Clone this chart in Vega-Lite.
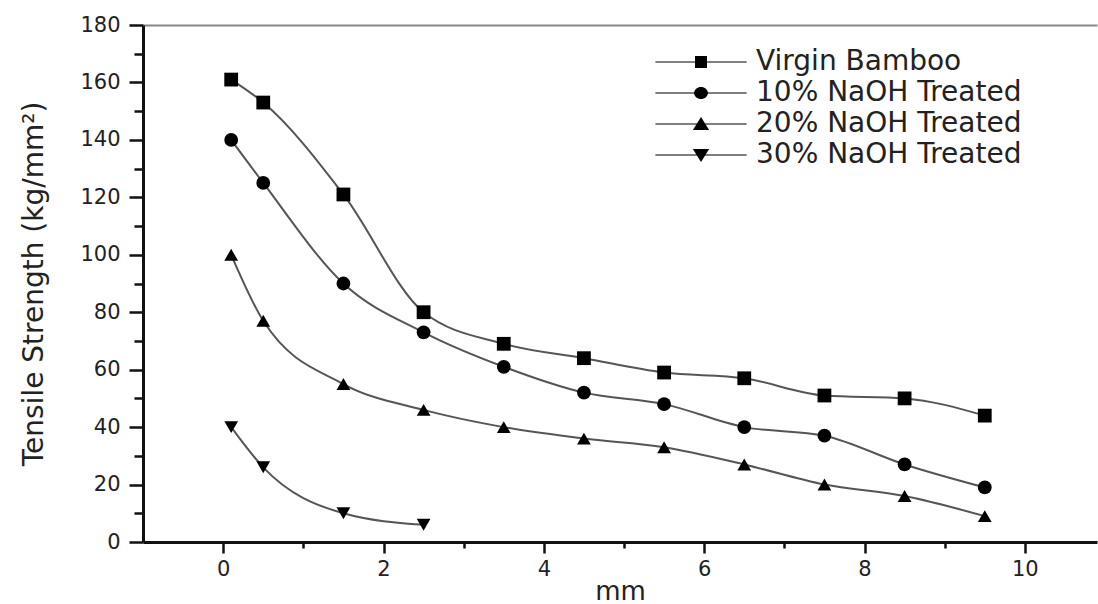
{
  "$schema": "https://vega.github.io/schema/vega-lite/v6.json",
  "width": 954,
  "height": 517,
  "autosize": {"type": "none"},
  "padding": {"left": 143, "top": 25, "right": 1, "bottom": 62},
  "background": "white",
  "config": {
    "view": {"stroke": null},
    "font": "DejaVu Sans",
    "axis": {"grid": false, "domainColor": "#111", "tickColor": "#111", "labelColor": "#222", "titleColor": "#222", "labelFont": "DejaVu Sans", "titleFont": "DejaVu Sans", "titleFontWeight": "normal"}
  },
  "data": {"values": [
    {"series": "Virgin Bamboo", "x": 0.1, "y": 161},
    {"series": "Virgin Bamboo", "x": 0.5, "y": 153},
    {"series": "Virgin Bamboo", "x": 1.5, "y": 121},
    {"series": "Virgin Bamboo", "x": 2.5, "y": 80},
    {"series": "Virgin Bamboo", "x": 3.5, "y": 69},
    {"series": "Virgin Bamboo", "x": 4.5, "y": 64},
    {"series": "Virgin Bamboo", "x": 5.5, "y": 59},
    {"series": "Virgin Bamboo", "x": 6.5, "y": 57},
    {"series": "Virgin Bamboo", "x": 7.5, "y": 51},
    {"series": "Virgin Bamboo", "x": 8.5, "y": 50},
    {"series": "Virgin Bamboo", "x": 9.5, "y": 44},
    {"series": "10% NaOH Treated", "x": 0.1, "y": 140},
    {"series": "10% NaOH Treated", "x": 0.5, "y": 125},
    {"series": "10% NaOH Treated", "x": 1.5, "y": 90},
    {"series": "10% NaOH Treated", "x": 2.5, "y": 73},
    {"series": "10% NaOH Treated", "x": 3.5, "y": 61},
    {"series": "10% NaOH Treated", "x": 4.5, "y": 52},
    {"series": "10% NaOH Treated", "x": 5.5, "y": 48},
    {"series": "10% NaOH Treated", "x": 6.5, "y": 40},
    {"series": "10% NaOH Treated", "x": 7.5, "y": 37},
    {"series": "10% NaOH Treated", "x": 8.5, "y": 27},
    {"series": "10% NaOH Treated", "x": 9.5, "y": 19},
    {"series": "20% NaOH Treated", "x": 0.1, "y": 100},
    {"series": "20% NaOH Treated", "x": 0.5, "y": 77},
    {"series": "20% NaOH Treated", "x": 1.5, "y": 55},
    {"series": "20% NaOH Treated", "x": 2.5, "y": 46},
    {"series": "20% NaOH Treated", "x": 3.5, "y": 40},
    {"series": "20% NaOH Treated", "x": 4.5, "y": 36},
    {"series": "20% NaOH Treated", "x": 5.5, "y": 33},
    {"series": "20% NaOH Treated", "x": 6.5, "y": 27},
    {"series": "20% NaOH Treated", "x": 7.5, "y": 20},
    {"series": "20% NaOH Treated", "x": 8.5, "y": 16},
    {"series": "20% NaOH Treated", "x": 9.5, "y": 9},
    {"series": "30% NaOH Treated", "x": 0.1, "y": 40},
    {"series": "30% NaOH Treated", "x": 0.5, "y": 26},
    {"series": "30% NaOH Treated", "x": 1.5, "y": 10},
    {"series": "30% NaOH Treated", "x": 2.5, "y": 6}
  ]},
  "layer": [
    {
      "mark": {"type": "line", "interpolate": "monotone", "stroke": "#555", "strokeWidth": 2},
      "encoding": {
        "x": {"field": "x", "type": "quantitative", "scale": {"domain": [-1, 10.9], "nice": false, "zero": false},
          "axis": {"orient": "bottom", "values": [0, 2, 4, 6, 8, 10], "tickSize": 11, "tickWidth": 2.5, "domainWidth": 3, "labelFontSize": 21, "labelPadding": 5, "title": "mm", "titleFontSize": 26, "titlePadding": -1}},
        "y": {"field": "y", "type": "quantitative", "scale": {"domain": [0, 180], "nice": false},
          "axis": {"orient": "left", "values": [0, 20, 40, 60, 80, 100, 120, 140, 160, 180], "tickSize": 14, "tickWidth": 2.5, "domainWidth": 3, "labelFontSize": 21, "labelPadding": 9, "title": "Tensile Strength (kg/mm²)", "titleFontSize": 28, "titlePadding": 31}},
        "detail": {"field": "series"}
      }
    },
    {
      "mark": {"type": "point", "filled": true, "color": "black", "opacity": 1, "size": 190},
      "encoding": {
        "x": {"field": "x", "type": "quantitative", "scale": {"domain": [-1, 10.9], "nice": false, "zero": false},
          "axis": {"orient": "bottom", "values": [1, 3, 5, 7, 9], "tickSize": 6, "tickWidth": 2.5, "domain": false, "labels": false, "title": null}},
        "y": {"field": "y", "type": "quantitative", "scale": {"domain": [0, 180], "nice": false},
          "axis": {"orient": "left", "values": [10, 30, 50, 70, 90, 110, 130, 150, 170], "tickSize": 9, "tickWidth": 2.5, "domain": false, "labels": false, "title": null}},
        "shape": {"field": "series", "type": "nominal",
          "scale": {"domain": ["Virgin Bamboo", "10% NaOH Treated", "20% NaOH Treated", "30% NaOH Treated"], "range": ["square", "circle", "triangle-up", "triangle-down"]},
          "legend": null}
      }
    },
    {
      "mark": {"type": "point", "filled": true, "fill": "black", "strokeWidth": 1.5, "opacity": 0},
      "encoding": {
        "x": {"field": "x", "type": "quantitative", "scale": {"domain": [-1, 10.9], "nice": false, "zero": false},
          "axis": {"orient": "top", "ticks": false, "labels": false, "domainColor": "#888", "domainWidth": 2, "title": null}},
        "y": {"field": "y", "type": "quantitative", "scale": {"domain": [0, 180], "nice": false}, "axis": null},
        "stroke": {"field": "series", "type": "nominal",
          "scale": {"domain": ["Virgin Bamboo", "10% NaOH Treated", "20% NaOH Treated", "30% NaOH Treated"], "range": ["#555", "#555", "#555", "#555"]},
          "legend": {"title": null, "orient": "none", "legendX": 544, "legendY": 23, "padding": 0, "symbolType": "M-7.6,0H7.6", "symbolSize": 144, "symbolOpacity": 1, "symbolStrokeWidth": 1.5, "labelFontSize": 28, "labelFont": "DejaVu Sans", "labelColor": "#222", "labelOffset": 41, "rowPadding": 3, "labelLimit": 500}},
        "shape": {"field": "series", "type": "nominal",
          "scale": {"domain": ["Virgin Bamboo", "10% NaOH Treated", "20% NaOH Treated", "30% NaOH Treated"],
            "range": [
              "M-1,-1H1V1H-1Z",
              "M1.15,0A1.15,1 0 1,1 -1.15,0A1.15,1 0 1,1 1.15,0Z",
              "M-1.35,1L0,-1.15L1.35,1Z",
              "M-1.35,-1L0,1.15L1.35,-1Z"
            ]},
          "legend": {"title": null, "orient": "none", "legendX": 544, "legendY": 23, "padding": 0, "symbolSize": 144, "symbolOpacity": 1, "symbolStrokeWidth": 0, "labelFontSize": 28, "labelFont": "DejaVu Sans", "labelColor": "#222", "labelOffset": 41, "rowPadding": 3, "labelLimit": 500, "labelExpr": "''"}}
      }
    }
  ],
  "resolve": {"axis": {"x": "independent", "y": "independent"}, "scale": {"shape": "independent"}, "legend": {"shape": "independent"}}
}
